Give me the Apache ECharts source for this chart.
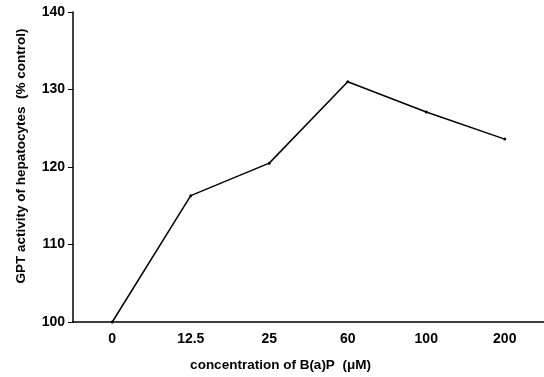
<!DOCTYPE html>
<html>
<head>
<meta charset="utf-8">
<script src="https://cdn.jsdelivr.net/npm/echarts@6/dist/echarts.min.js"></script>
<style>
  html, body {margin: 0; padding: 0; background: #fff;}
  #chart {width: 544px; height: 377px;}
</style>
</head>
<body>
<div id="chart"></div>
<script>
// concentrations of B(a)P, uM
const doses = ['0', '12.5', '25', '60', '100', '200'];
// GPT activity, % of control
const gptActivity = [100, 116.3, 120.5, 131, 127.1, 123.6];
const yTicks = {min: 100, max: 140, step: 10};

const font = '"Liberation Sans", Arial, sans-serif';

const chart = echarts.init(document.getElementById('chart'));
chart.setOption({
  animation: false,
  backgroundColor: '#fff',
  grid: {left: 73, top: 12, bottom: 55, right: -9},
  xAxis: {
    type: 'category',
    data: doses,
    boundaryGap: true,
    name: 'concentration of B(a)P  (\u03bcM)',
    nameLocation: 'middle',
    nameGap: 36,
    nameTextStyle: {
      color: '#000', fontFamily: font, fontWeight: 'bold', fontSize: 13.5,
      padding: [0, 56, 0, 0]
    },
    axisLine: {lineStyle: {color: '#000', width: 1.5}},
    axisTick: {alignWithLabel: true, inside: true, length: 5, lineStyle: {color: '#000'}},
    axisLabel: {color: '#000', fontFamily: font, fontWeight: 'bold', fontSize: 14, margin: 10},
    splitLine: {show: false}
  },
  yAxis: {
    type: 'value',
    min: yTicks.min,
    max: yTicks.max,
    interval: yTicks.step,
    name: 'GPT activity of hepatocytes  (% control)',
    nameLocation: 'middle',
    nameGap: 45,
    nameTextStyle: {
      color: '#000', fontFamily: font, fontWeight: 'bold', fontSize: 13.5,
      padding: [0, 0, 0, 22]
    },
    axisLine: {show: true, lineStyle: {color: '#000', width: 1.5}},
    axisTick: {show: true, length: 5, lineStyle: {color: '#000'}},
    axisLabel: {color: '#000', fontFamily: font, fontWeight: 'bold', fontSize: 14, margin: 8},
    splitLine: {show: false}
  },
  series: [{
    type: 'line',
    data: gptActivity,
    symbol: 'circle',
    symbolSize: 3,
    itemStyle: {color: '#000'},
    lineStyle: {color: '#000', width: 1.5}
  }]
});
</script>
</body>
</html>
